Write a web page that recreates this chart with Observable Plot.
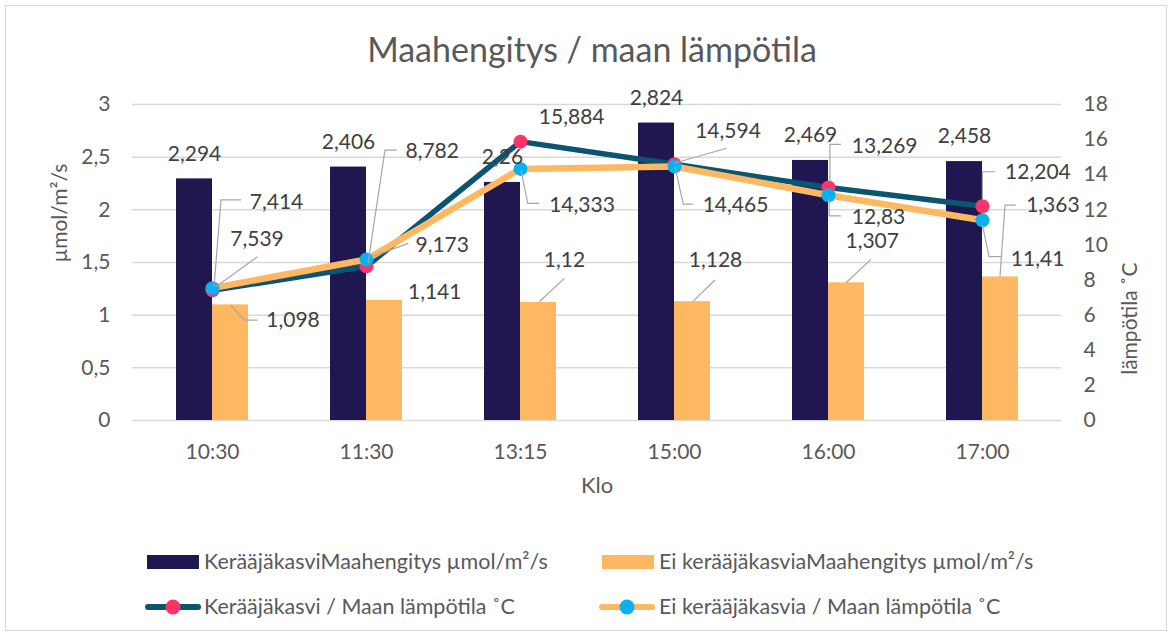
<!DOCTYPE html>
<html>
<head>
<meta charset="utf-8">
<script src="https://cdn.jsdelivr.net/npm/d3@7"></script>
<script src="https://cdn.jsdelivr.net/npm/@observablehq/plot@0.6"></script>
<style>
  body { margin: 0; background: #fff; font-family: Lato, sans-serif; }
  #wrap { position: relative; width: 1172px; height: 637px; overflow: hidden; background: #fff; }
  #frame { position: absolute; left: 5px; top: 5px; width: 1162px; height: 626px; border: 1px solid #d9d9d9; box-sizing: border-box; }
  #title { position: absolute; left: 0; top: 31.5px; width: 1184px; text-align: center; font-size: 34px; line-height: 34px; color: #595959; }
  #chart { position: absolute; left: 0; top: 70px; }
  .legtext { position: absolute; font-size: 21.5px; line-height: 21.5px; color: #595959; white-space: nowrap; }
  .sw { position: absolute; }
</style>
</head>
<body>
<div id="wrap">
  <div id="frame"></div>
  <div id="title"></div>
  <div id="chart"></div>
  <div id="legend"></div>
</div>
<script>
// ---- data ----
const categories = ["10:30", "11:30", "13:15", "15:00", "16:00", "17:00"];
const respWith = [2.294, 2.406, 2.26, 2.824, 2.469, 2.458];
const respWithout = [1.098, 1.141, 1.12, 1.128, 1.307, 1.363];
const tempWith = [7.414, 8.782, 15.884, 14.594, 13.269, 12.204];
const tempWithout = [7.539, 9.173, 14.333, 14.465, 12.83, 11.41];
const leftTicks = [0, 0.5, 1, 1.5, 2, 2.5, 3];
const rightTicks = [0, 2, 4, 6, 8, 10, 12, 14, 16, 18];
const seriesNames = [
  "KerääjäkasviMaahengitys µmol/m²/s",
  "Ei kerääjäkasviaMaahengitys µmol/m²/s",
  "Kerääjäkasvi / Maan lämpötila ˚C",
  "Ei kerääjäkasvia / Maan lämpötila ˚C"
];
const titleText = "Maahengitys / maan lämpötila";
const xTitle = "Klo";
const yLeftTitle = "µmol/m²/s";
const yRightTitle = "lämpötila ˚C";

// ---- style / layout ----
const C = { dark: "#201751", orange: "#FFB862", teal: "#0C5572", pink: "#FF3366", cyan: "#0DB0EE",
            grid: "#d9d9d9", text: "#595959", label: "#404040", leader: "#a6a6a6" };
// label offsets (px) from anchor [dx, dy], leader polyline points (px) from anchor
const orangeLayout = [
  { l: [62.5, 15.7], p: [[0.8, 0.7], [14.2, 15.7], [27.5, 15.7]] },
  { l: [50.2, -8], p: null },
  { l: [26, -42], p: [[1.3, -0.3], [26.3, -23.7]] },
  { l: [23, -41], p: [[0.7, 0.5], [23, -21.2]] },
  { l: [25.7, -41.6], p: [[0, 0.4], [24.9, -23]] },
  { l: [52.4, -71.4], p: [[0, 0], [5, -71.4], [15.7, -71.4]] }
];
const tempWithLayout = [
  { l: [64, -88], p: [[2, -3], [9, -90], [29, -90]] },
  { l: [65.7, -115.1], p: [[2, -2.5], [19, -115.8], [30.7, -115.8]] },
  { l: [51.2, -24.3], p: null },
  { l: [53.5, -33.1], p: [[0, -0.5], [52.7, -15.5]] },
  { l: [56.2, -41.3], p: [[1.9, -5.3], [1.9, -42.7], [12.9, -42.7]] },
  { l: [55.4, -34], p: [[0.4, -5.7], [0.4, -34], [13.1, -34]] }
];
const tempWithoutLayout = [
  { l: [44.5, -49.3], p: [[4, -1], [45.5, -31]] },
  { l: [75.7, -13.9], p: [[5.7, -2.2], [42.4, -15.6]] },
  { l: [61.5, 36.6], p: [[1, 1.6], [7.7, 35], [19.3, 35]] },
  { l: [61, 39], p: [[1, 0.7], [9.3, 38], [19.3, 38]] },
  { l: [50, 21.9], p: [[1.2, 3.5], [1.2, 21.2], [12.9, 21.2]] },
  { l: [55.1, 39.3], p: [[0.4, 5.3], [7.1, 37], [19.1, 37]] }
];

const fmt = v => String(v).replace(".", ",");
const K = d3.max(rightTicks) / d3.max(leftTicks); // right-axis units per left-axis unit

const rows = categories.map((c, i) => ({
  c, a: respWith[i], b: respWithout[i], ta: tempWith[i] / K, tb: tempWithout[i] / K,
  la: fmt(respWith[i]), lb: fmt(respWithout[i]), lta: fmt(tempWith[i]), ltb: fmt(tempWithout[i])
}));

const W = 1172, H = 440, mL = 132, mR = 111, mT = 34, mB = 90;
const half = 36; // half of band width (px)
const FS = 21;

const marks = [
  Plot.ruleY(leftTicks, { stroke: C.grid, strokeWidth: 1.5 }),
  Plot.barY(rows, { x: "c", y: "a", fill: C.dark, insetRight: half }),
  Plot.barY(rows, { x: "c", y: "b", fill: C.orange, insetLeft: half }),
  Plot.line(rows, { x: "c", y: "ta", stroke: C.teal, strokeWidth: 5.5 }),
  Plot.dot(rows, { x: "c", y: "ta", r: 7, fill: C.pink }),
  Plot.line(rows, { x: "c", y: "tb", stroke: C.orange, strokeWidth: 6.5 }),
  Plot.dot(rows, { x: "c", y: "tb", r: 7, fill: C.cyan }),
  Plot.axisY({ anchor: "left", ticks: leftTicks, tickFormat: fmt, tickSize: 0, tickPadding: 22, fontSize: FS, label: null }),
  Plot.axisY({ anchor: "right", ticks: rightTicks.map(t => t / K), tickFormat: d => fmt(Math.round(d * K)),
               tickSize: 0, tickPadding: 22, fontSize: FS, label: null }),
  Plot.axisX({ tickSize: 0, tickPadding: 24, fontSize: FS, label: null }),
  Plot.text(rows, { x: "c", y: "a", text: "la", dx: -half / 2, dy: -25, fill: C.label, fontSize: FS }),
  Plot.text([yLeftTitle], { text: d => d, frameAnchor: "left", dx: -72, rotate: -90, fontSize: FS, fill: C.text }),
  Plot.text([yRightTitle], { text: d => d, frameAnchor: "right", dx: 69, rotate: -90, fontSize: FS, fill: C.text }),
  Plot.text([xTitle], { text: d => d, frameAnchor: "bottom", dy: 72, fontSize: 22, fill: C.text })
];
rows.forEach((r, i) => {
  marks.push(Plot.text([r], { x: "c", y: "b", text: "lb", dx: half / 2 + orangeLayout[i].l[0], dy: orangeLayout[i].l[1], fill: C.label, fontSize: FS }));
  marks.push(Plot.text([r], { x: "c", y: "ta", text: "lta", dx: tempWithLayout[i].l[0], dy: tempWithLayout[i].l[1], fill: C.label, fontSize: FS }));
  marks.push(Plot.text([r], { x: "c", y: "tb", text: "ltb", dx: tempWithoutLayout[i].l[0], dy: tempWithoutLayout[i].l[1], fill: C.label, fontSize: FS }));
});

const chart = Plot.plot({
  width: W, height: H, marginLeft: mL, marginRight: mR, marginTop: mT, marginBottom: mB,
  style: { fontFamily: "Lato, sans-serif", fontSize: FS + "px", color: C.text, background: "transparent" },
  x: { type: "band", domain: categories, paddingInner: 0.535, paddingOuter: 0.2675, axis: null },
  y: { domain: [0, d3.max(leftTicks)], axis: null },
  marks
});
document.getElementById("chart").appendChild(chart);

// leader lines, positioned through Plot's own scales
const sx = chart.scale("x"), sy = chart.scale("y");
const cx = c => sx.apply(c) + (sx.bandwidth || 0) / 2;
const g = d3.select(chart).append("g").attr("fill", "none").attr("stroke", C.leader).attr("stroke-width", 1.2);
function leader(x0, y0, pts) {
  if (!pts) return;
  g.append("path").attr("d", "M" + pts.map(p => (x0 + p[0]) + "," + (y0 + p[1])).join("L"));
}
rows.forEach((r, i) => {
  leader(cx(r.c) + half / 2, sy.apply(r.b), orangeLayout[i].p);
  leader(cx(r.c), sy.apply(r.ta), tempWithLayout[i].p);
  leader(cx(r.c), sy.apply(r.tb), tempWithoutLayout[i].p);
});

// title
document.getElementById("title").textContent = titleText;

// legend
const leg = document.getElementById("legend");
const items = [
  { x: 147, y: 562, kind: "bar", fill: C.dark, tx: 204 },
  { x: 602, y: 562, kind: "bar", fill: C.orange, tx: 659 },
  { x: 145, y: 607, kind: "line", stroke: C.teal, dot: C.pink, tx: 204 },
  { x: 599, y: 607, kind: "line", stroke: C.orange, dot: C.cyan, tx: 659 }
];
items.forEach((it, i) => {
  const ns = "http://www.w3.org/2000/svg";
  const s = document.createElementNS(ns, "svg");
  s.setAttribute("class", "sw");
  s.setAttribute("width", 58); s.setAttribute("height", 18);
  s.style.left = it.x + "px"; s.style.top = (it.y - 9) + "px";
  if (it.kind === "bar") {
    const rct = document.createElementNS(ns, "rect");
    rct.setAttribute("x", 0); rct.setAttribute("y", 2); rct.setAttribute("width", 52); rct.setAttribute("height", 14);
    rct.setAttribute("fill", it.fill); s.appendChild(rct);
  } else {
    const ln = document.createElementNS(ns, "line");
    ln.setAttribute("x1", 3); ln.setAttribute("x2", 53); ln.setAttribute("y1", 9); ln.setAttribute("y2", 9);
    ln.setAttribute("stroke", it.stroke); ln.setAttribute("stroke-width", 6); ln.setAttribute("stroke-linecap", "round");
    s.appendChild(ln);
    const c = document.createElementNS(ns, "circle");
    c.setAttribute("cx", 28); c.setAttribute("cy", 9); c.setAttribute("r", 7.5); c.setAttribute("fill", it.dot);
    s.appendChild(c);
  }
  leg.appendChild(s);
  const t = document.createElement("div");
  t.className = "legtext";
  t.textContent = seriesNames[i];
  t.style.left = it.tx + "px"; t.style.top = (it.y - 11.3) + "px";
  leg.appendChild(t);
});
</script>
</body>
</html>
